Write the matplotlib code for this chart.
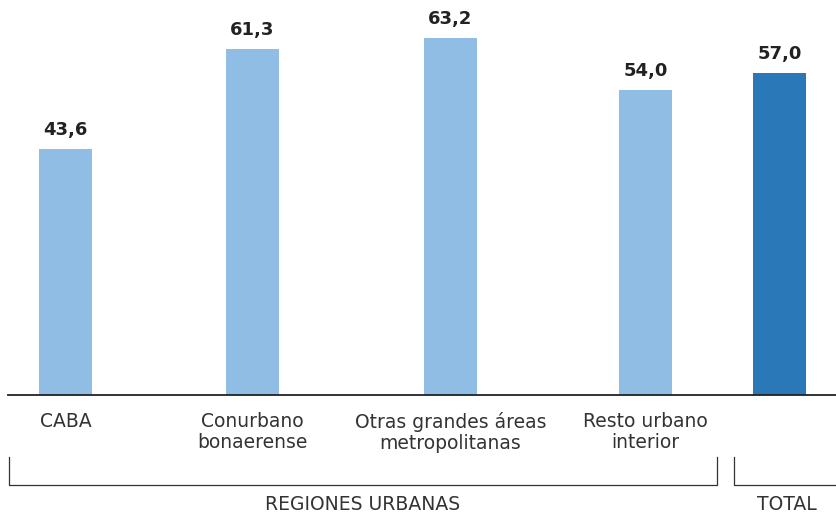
import matplotlib.pyplot as plt

categories = ['CABA', 'Conurbano\nbonaerense', 'Otras grandes áreas\nmetropolitanas',
              'Resto urbano\ninterior', '']
values = [43.6, 61.3, 63.2, 54.0, 57.0]
value_labels = ['43,6', '61,3', '63,2', '54,0', '57,0']
groups = ['REGIONES URBANAS', 'TOTAL']

# layout (pixel-based x axis)
pos = [65.5, 252.5, 450.5, 645.5, 779.5]
colors = ['#8fbde3'] * 4 + ['#2a78b8']

plt.rcParams['font.family'] = ['DejaVu Sans']

fig = plt.figure(figsize=(8.36, 5.15), dpi=100)
ax = fig.add_axes([0, 120 / 515, 1, 395 / 515])
ax.bar(pos, values, width=53, color=colors, zorder=2)
ax.set_xlim(0, 836)
ax.set_ylim(0, 395 / 5.649)
ax.axis('off')
ax.plot([8, 836], [0, 0], color='#222222', lw=1.3, clip_on=False, zorder=3)

for x, v, s in zip(pos, values, value_labels):
    ax.annotate(s, (x, v), xytext=(0, 7), textcoords='offset points',
                ha='center', va='bottom', fontsize=13, fontweight='bold', color='#222222')

# texts and brackets under the baseline, in pixel coordinates
ov = fig.add_axes([0, 0, 1, 1], facecolor='none')
ov.set_xlim(0, 836)
ov.set_ylim(515, 0)
ov.axis('off')

for x, c in zip(pos, categories):
    ov.text(x, 412, c, ha='center', va='top', fontsize=13.5, color='#333333',
            linespacing=1.12)

line_kw = dict(color='#333333', lw=0.9)
ov.plot([8.5, 8.5, 717, 717], [457, 485, 485, 457], **line_kw)
ov.plot([734, 734, 836], [457, 485, 485], **line_kw)
ov.text(363, 504, groups[0], ha='center', va='center', fontsize=13.5, color='#333333')
ov.text(787, 504, groups[1], ha='center', va='center', fontsize=13.5, color='#333333')

fig.savefig('out.png', dpi=100, facecolor='white')
